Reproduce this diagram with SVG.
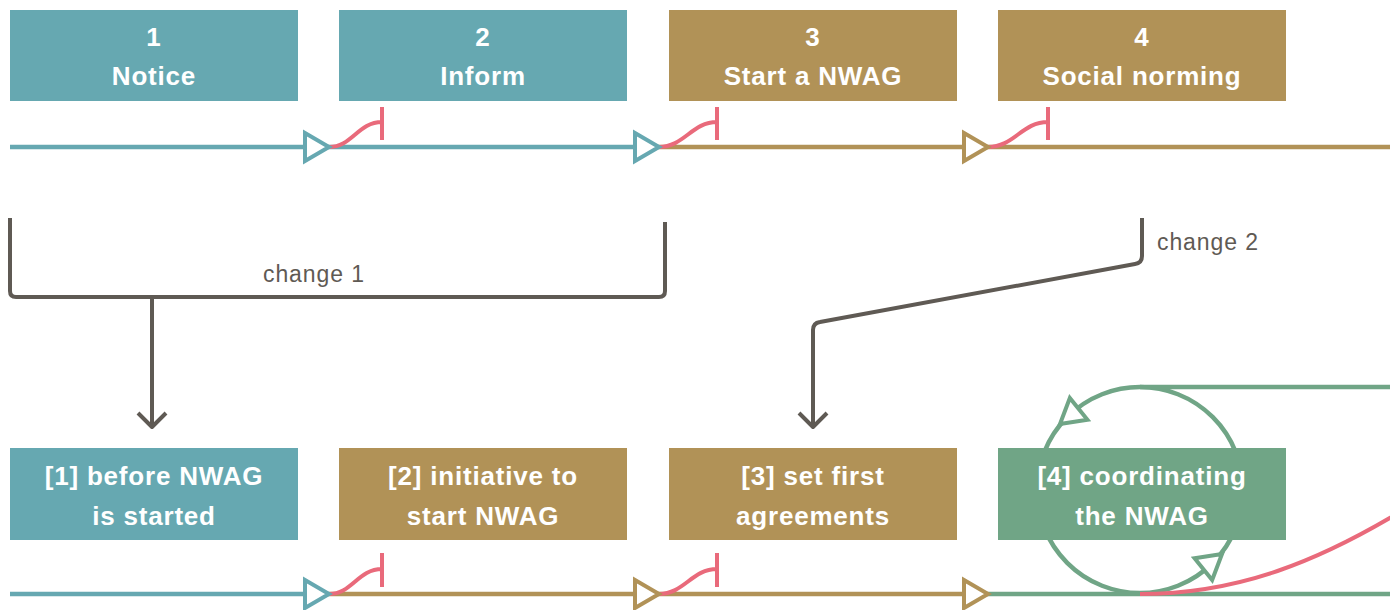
<svg xmlns="http://www.w3.org/2000/svg" width="1390" height="610" viewBox="0 0 1390 610">
<defs>
<style>
.box text{font-family:"Liberation Sans",Arial,sans-serif;font-weight:bold;font-size:26px;letter-spacing:0.8px;fill:#fff;text-anchor:middle}
.teal{fill:#66a8b1}.tan{fill:#b19257}.green{fill:#70a586}
.ln{fill:none;stroke-width:4.5}
.lt{stroke:#66a8b1}.lg{stroke:#b19257}.lgr{stroke:#70a586}
.red{fill:none;stroke:#e96a7b;stroke-width:4}
.gray{fill:none;stroke:#5f5a54;stroke-width:4;stroke-linejoin:round}
.lbl{font-family:"Liberation Sans",Arial,sans-serif;font-size:23px;letter-spacing:0.9px;fill:#5f5a54}
.tri{fill:#fff;stroke-width:4;stroke-linejoin:miter}
</style>
<polygon id="tr" points="-24,-14 0,0 -24,14"/>
</defs>

<g id="connectors">
  <!-- top timeline -->
  <line class="ln lt" x1="10" y1="147" x2="659" y2="147"/>
  <line class="ln lg" x1="659" y1="147" x2="1390" y2="147"/>
  <path class="red" d="M329,147 C352,147 358,122 382,122 M382,107 V140"/>
  <path class="red" d="M659,147 C684,147 692,122 717,122 M717,107 V140"/>
  <path class="red" d="M988,147 C1014,147 1022,122 1048,122 M1048,107 V140"/>
  <use href="#tr" x="329" y="147" class="tri lt"/>
  <use href="#tr" x="659" y="147" class="tri lt"/>
  <use href="#tr" x="988" y="147" class="tri lg"/>

  <!-- bottom timeline -->
  <circle cx="1140" cy="490" r="103" class="ln lgr"/>
  <line class="ln lgr" x1="1140" y1="387" x2="1390" y2="387"/>
  <line class="ln lt" x1="10" y1="594" x2="329" y2="594"/>
  <line class="ln lg" x1="329" y1="594" x2="988" y2="594"/>
  <line class="ln lgr" x1="988" y1="594" x2="1390" y2="594"/>
  <path class="red" d="M329,594 C352,594 358,569 382,569 M382,553 V587"/>
  <path class="red" d="M659,594 C684,594 692,569 717,569 M717,553 V587"/>
  <path class="red" d="M1140,594 C1240,594 1320,560 1400,512"/>
  <use href="#tr" x="329" y="594" class="tri lt"/>
  <use href="#tr" x="659" y="594" class="tri lg"/>
  <use href="#tr" x="988" y="594" class="tri lg"/>
  <use href="#tr" transform="translate(1060,424) rotate(141)" class="tri lgr"/>
  <use href="#tr" transform="translate(1222,554) rotate(-39)" class="tri lgr"/>

  <!-- change 1 -->
  <path class="gray" d="M10,218 V291 Q10,297 16,297 H659 Q665,297 665,291 V222"/>
  <path class="gray" d="M152,297 V427"/>
  <polyline class="gray" points="138,413 152,427 166,413"/>
  <text class="lbl" x="263" y="282">change 1</text>

  <!-- change 2 -->
  <path class="gray" d="M1142,218 V256 Q1142,263 1135,264 L820,322 Q813,323 813,330 V427"/>
  <polyline class="gray" points="799,413 813,427 827,413"/>
  <text class="lbl" x="1157" y="250">change 2</text>
</g>

<g id="n1" class="box"><rect class="teal" x="10" y="10" width="288" height="91"/><text x="154" y="46">1</text><text x="154" y="85">Notice</text></g>
<g id="n2" class="box"><rect class="teal" x="339" y="10" width="288" height="91"/><text x="483" y="46">2</text><text x="483" y="85">Inform</text></g>
<g id="n3" class="box"><rect class="tan" x="669" y="10" width="288" height="91"/><text x="813" y="46">3</text><text x="813" y="85">Start a NWAG</text></g>
<g id="n4" class="box"><rect class="tan" x="998" y="10" width="288" height="91"/><text x="1142" y="46">4</text><text x="1142" y="85">Social norming</text></g>

<g id="b1" class="box"><rect class="teal" x="10" y="448" width="288" height="92"/><text x="154" y="485">[1] before NWAG</text><text x="154" y="525">is started</text></g>
<g id="b2" class="box"><rect class="tan" x="339" y="448" width="288" height="92"/><text x="483" y="485">[2] initiative to</text><text x="483" y="525">start NWAG</text></g>
<g id="b3" class="box"><rect class="tan" x="669" y="448" width="288" height="92"/><text x="813" y="485">[3] set first</text><text x="813" y="525">agreements</text></g>
<g id="b4" class="box"><rect class="green" x="998" y="448" width="288" height="92"/><text x="1142" y="485">[4] coordinating</text><text x="1142" y="525">the NWAG</text></g>
</svg>
